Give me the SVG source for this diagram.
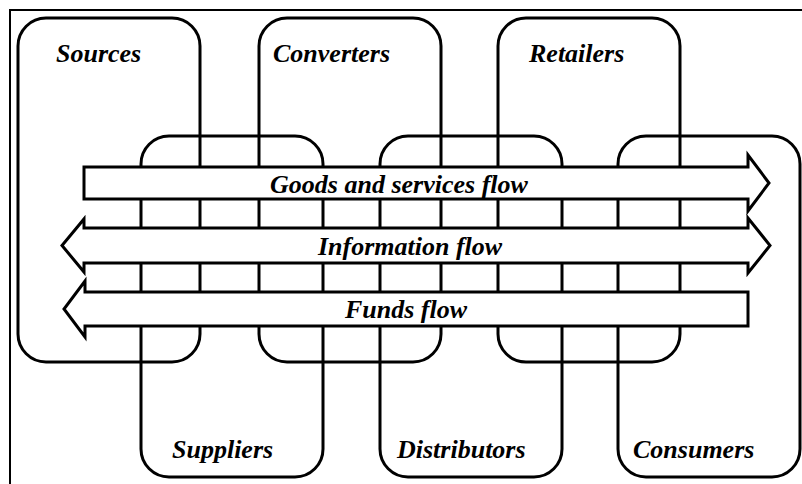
<svg xmlns="http://www.w3.org/2000/svg" width="802" height="484" viewBox="0 0 802 484">
<style>
.node{fill:none;stroke:#000;stroke-width:3}
.arrow{fill:#fff;stroke:#000;stroke-width:3;stroke-linejoin:miter}
.lbl{font-family:"Liberation Serif","Times New Roman",serif;font-weight:bold;font-style:italic;font-size:26px;fill:#000}
</style>
<rect x="0" y="0" width="802" height="484" fill="#fff"/>
<path d="M10,484 V10 H802" fill="none" stroke="#000" stroke-width="2"/>
<g id="sources"><rect class="node" x="18" y="18" width="182" height="344" rx="28"/><text class="lbl" x="56" y="62">Sources</text></g>
<g id="converters"><rect class="node" x="259" y="18" width="182" height="344" rx="28"/><text class="lbl" x="273" y="62">Converters</text></g>
<g id="retailers"><rect class="node" x="498" y="18" width="182" height="344" rx="28"/><text class="lbl" x="529" y="62">Retailers</text></g>
<g id="suppliers"><rect class="node" x="141" y="136" width="182" height="341" rx="28"/><text class="lbl" x="172" y="458">Suppliers</text></g>
<g id="distributors"><rect class="node" x="380" y="136" width="182" height="341" rx="28"/><text class="lbl" x="397" y="458">Distributors</text></g>
<g id="consumers"><rect class="node" x="618" y="136" width="182" height="341" rx="28"/><text class="lbl" x="633" y="458">Consumers</text></g>
<g id="connectors">
<g id="goods"><path class="arrow" d="M84,167 H748 V155 L769,183 L748,211 V199 H84 Z"/><text class="lbl" x="399" y="193" text-anchor="middle">Goods and services flow</text></g>
<g id="information"><path class="arrow" d="M84,228 H748 V218 L770,245.5 L748,273 V263 H84 V272 L62,245.5 L84,219 Z"/><text class="lbl" x="410" y="255" text-anchor="middle">Information flow</text></g>
<g id="funds"><path class="arrow" d="M748,292 V326 H85 V337 L64,309 L85,281 V292 Z"/><text class="lbl" x="406" y="318" text-anchor="middle">Funds flow</text></g>
</g>
</svg>
